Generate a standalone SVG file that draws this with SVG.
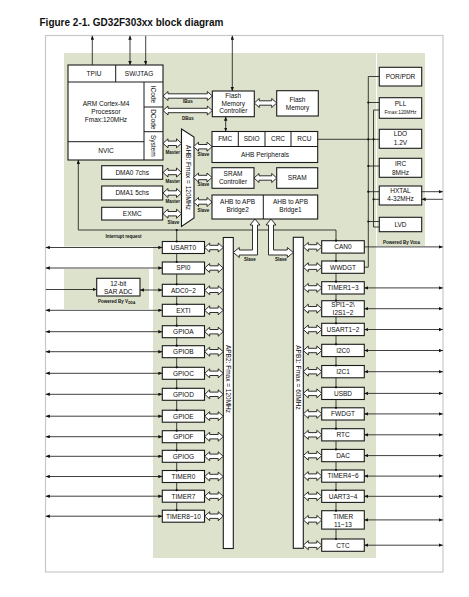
<svg xmlns="http://www.w3.org/2000/svg" width="469" height="597" viewBox="0 0 469 597">
<style>
.bx{fill:#fff;stroke:#1a1a1a;stroke-width:1.1}
.dv{stroke:#1a1a1a;stroke-width:1}
.t{font-family:"Liberation Sans",Arial,sans-serif;font-size:6.5px;fill:#0d0d0d;text-anchor:middle}
.sm{font-family:"Liberation Sans",Arial,sans-serif;font-size:4.5px;font-weight:bold;fill:#111;text-anchor:middle}
.ln{fill:none;stroke:#1e1e1e;stroke-width:0.85}
.ar{marker-end:url(#ah)}
.ar2{marker-start:url(#ah);marker-end:url(#ah)}
.ha{fill:#fff;stroke:#1a1a1a;stroke-width:0.9}
.dt{fill:#111}
</style>
<defs>
<marker id="ah" markerUnits="userSpaceOnUse" markerWidth="5" markerHeight="4" refX="4" refY="1.75" orient="auto-start-reverse"><path d="M0,0 L4,1.75 L0,3.5 Z" fill="#111"/></marker>
<path id="h18" d="M0 0 L5 -4.5 L5 -2.2 L13.5 -2.2 L13.5 -4.5 L18.5 0 L13.5 4.5 L13.5 2.2 L5 2.2 L5 4.5 Z"/>
</defs>

<g id="background">
<rect x="45.5" y="35.5" width="397.5" height="536.5" fill="#fff" stroke="#c8c8c8" stroke-width="1.2"/>
<path d="M64 53 H376 V558 H153 V246.5 H64 Z" fill="#dde2cc"/>
<rect x="377" y="53" width="48" height="193" fill="#dde2cc"/>
<rect x="64" y="269" width="85" height="40" fill="#dde2cc"/>
<text x="39.5" y="25.5" style="font-family:'Liberation Sans',Arial,sans-serif;font-size:10px;font-weight:bold;fill:#111">Figure 2-1. GD32F303xx block diagram</text>
</g>

<g id="cpu">
<rect class="bx" x="68" y="65" width="95" height="95"/>
<line class="dv" x1="68" y1="82" x2="163" y2="82"/>
<line class="dv" x1="115.7" y1="65" x2="115.7" y2="82"/>
<line class="dv" x1="144" y1="82" x2="144" y2="160"/>
<line class="dv" x1="144" y1="107" x2="163" y2="107"/>
<line class="dv" x1="144" y1="131.7" x2="163" y2="131.7"/>
<line class="dv" x1="68" y1="141.7" x2="144" y2="141.7"/>
<text class="t" x="94" y="76.3">TPIU</text>
<text class="t" x="139" y="76.3">SW/JTAG</text>
<text class="t" x="106" y="106">ARM Cortex-M4</text>
<text class="t" x="106" y="114">Processor</text>
<text class="t" x="106" y="121.7">Fmax:120MHz</text>
<text class="t" x="106" y="153.3">NVIC</text>
<text class="t" x="153.5" y="94.5" dy="0.35em" transform="rotate(90 153.5 94.5)">ICode</text>
<text class="t" x="153.5" y="119.3" dy="0.35em" transform="rotate(90 153.5 119.3)">DCode</text>
<text class="t" x="153.5" y="145.8" dy="0.35em" transform="rotate(90 153.5 145.8)">System</text>
</g>

<g id="flash-ctrl">
<rect class="bx" x="212.3" y="91" width="42" height="25.7"/>
<text class="t" x="233.3" y="98">Flash</text>
<text class="t" x="233.3" y="105.5">Memory</text>
<text class="t" x="233.3" y="113">Controller</text>
</g>
<g id="flash">
<rect class="bx" x="276.7" y="90.7" width="41.6" height="25.3"/>
<text class="t" x="297.5" y="101.5">Flash</text>
<text class="t" x="297.5" y="109.5">Memory</text>
</g>
<g id="ahb-periph">
<rect class="bx" x="212" y="131.5" width="105.7" height="31"/>
<line class="dv" x1="212" y1="146.5" x2="317.7" y2="146.5"/>
<line class="dv" x1="238.3" y1="131.5" x2="238.3" y2="146.5"/>
<line class="dv" x1="265" y1="131.5" x2="265" y2="146.5"/>
<line class="dv" x1="291" y1="131.5" x2="291" y2="146.5"/>
<text class="t" x="225.2" y="141.4">FMC</text>
<text class="t" x="251.7" y="141.4">SDIO</text>
<text class="t" x="278" y="141.4">CRC</text>
<text class="t" x="304.4" y="141.4">RCU</text>
<text class="t" x="265" y="156.8">AHB Peripherals</text>
</g>
<g id="sram-ctrl">
<rect class="bx" x="212" y="167.7" width="42" height="20.6"/>
<text class="t" x="233" y="175.8">SRAM</text>
<text class="t" x="233" y="184.1">Controller</text>
</g>
<g id="sram">
<rect class="bx" x="276.7" y="167.7" width="41" height="20.6"/>
<text class="t" x="297.2" y="180.3">SRAM</text>
</g>
<g id="bridges">
<rect class="bx" x="212" y="195" width="105.7" height="24"/>
<line class="dv" x1="263.3" y1="195" x2="263.3" y2="219"/>
<text class="t" x="237.6" y="204">AHB to APB</text>
<text class="t" x="237.6" y="212">Bridge2</text>
<text class="t" x="290.5" y="204">AHB to APB</text>
<text class="t" x="290.5" y="212">Bridge1</text>
</g>
<g id="ahb-matrix">
<polygon class="bx" points="181.5,129 194,137 194,218 181.5,226.5"/>
<text class="t" x="188" y="177.5" dy="0.35em" transform="rotate(90 188 177.5)">AHB: Fmax = 120MHz</text>
</g>
<g id="dma0">
<rect class="bx" x="101.7" y="165.7" width="61" height="13.6"/>
<text class="t" x="132.2" y="174.8">DMA0 7chs</text>
</g>
<g id="dma1">
<rect class="bx" x="101.7" y="186" width="61" height="14"/>
<text class="t" x="132.2" y="195.3">DMA1 5chs</text>
</g>
<g id="exmc">
<rect class="bx" x="101.7" y="207.3" width="61" height="12.7"/>
<text class="t" x="132.2" y="216">EXMC</text>
</g>

<g id="por-pdr"><rect class="bx" x="379.3" y="67.3" width="42.4" height="18.7"/><text class="t" x="400.5" y="79.1">POR/PDR</text></g>
<g id="pll"><rect class="bx" x="379.3" y="97.7" width="42.4" height="20.6"/><text class="t" x="400.5" y="105.7">PLL</text><text class="t" x="400.5" y="114" style="font-size:4.9px">Fmax:120MHz</text></g>
<g id="ldo"><rect class="bx" x="379.3" y="129.3" width="42.4" height="19"/><text class="t" x="400.5" y="136.2">LDO</text><text class="t" x="400.5" y="145">1.2V</text></g>
<g id="irc"><rect class="bx" x="379.3" y="158.3" width="42.4" height="19"/><text class="t" x="400.5" y="165.6">IRC</text><text class="t" x="400.5" y="174.5">8MHz</text></g>
<g id="hxtal"><rect class="bx" x="379.3" y="186" width="42.4" height="19"/><text class="t" x="400.5" y="192.6">HXTAL</text><text class="t" x="400.5" y="201.3">4-32MHz</text></g>
<g id="lvd"><rect class="bx" x="379.3" y="217.3" width="42.4" height="14.4"/><text class="t" x="400.5" y="227">LVD</text></g>
<text class="sm" x="401.5" y="243.5">Powered By V<tspan style="font-size:3.3px" dy="0.6">DDA</tspan></text>

<g id="sar-adc">
<rect class="bx" x="96.7" y="278.3" width="43.3" height="17.7"/>
<text class="t" x="118.3" y="285.7">12-bit</text>
<text class="t" x="118.3" y="293.6">SAR ADC</text>
</g>
<text class="sm" x="116.7" y="303">Powered By V<tspan style="font-size:3.3px" dy="0.6">DDA</tspan></text>

<g id="apb2-bus">
<rect class="bx" x="223.3" y="237.5" width="10" height="311"/>
<text class="t" x="228.3" y="379" dy="0.35em" transform="rotate(90 228.3 379)">APB2: Fmax = 120MHz</text>
</g>
<g id="apb1-bus">
<rect class="bx" x="293.3" y="237.3" width="10" height="311"/>
<text class="t" x="298.3" y="377.5" dy="0.35em" transform="rotate(90 298.3 377.5)">APB1: Fmax = 60MHz</text>
</g>

<g id="apb2-peripherals">
<g id="usart0"><rect class="bx" x="162.3" y="241.5" width="42.2" height="12"/><text class="t" x="183.4" y="249.8">USART0</text></g>
<g id="spi0"><rect class="bx" x="162.3" y="262" width="42.2" height="12"/><text class="t" x="183.4" y="270.3">SPI0</text></g>
<g id="adc"><rect class="bx" x="162.3" y="284.3" width="42.2" height="12"/><text class="t" x="183.4" y="292.6">ADC0~2</text></g>
<g id="exti"><rect class="bx" x="162.3" y="304.3" width="42.2" height="12"/><text class="t" x="183.4" y="312.6">EXTI</text></g>
<g id="gpioa"><rect class="bx" x="162.3" y="325.7" width="42.2" height="12"/><text class="t" x="183.4" y="334">GPIOA</text></g>
<g id="gpiob"><rect class="bx" x="162.3" y="345.7" width="42.2" height="12"/><text class="t" x="183.4" y="354">GPIOB</text></g>
<g id="gpioc"><rect class="bx" x="162.3" y="367.3" width="42.2" height="12"/><text class="t" x="183.4" y="375.6">GPIOC</text></g>
<g id="gpiod"><rect class="bx" x="162.3" y="388.3" width="42.2" height="12"/><text class="t" x="183.4" y="396.6">GPIOD</text></g>
<g id="gpioe"><rect class="bx" x="162.3" y="410.2" width="42.2" height="12"/><text class="t" x="183.4" y="418.5">GPIOE</text></g>
<g id="gpiof"><rect class="bx" x="162.3" y="430.7" width="42.2" height="12"/><text class="t" x="183.4" y="439">GPIOF</text></g>
<g id="gpiog"><rect class="bx" x="162.3" y="450.3" width="42.2" height="12"/><text class="t" x="183.4" y="458.6">GPIOG</text></g>
<g id="timer0"><rect class="bx" x="162.3" y="470.5" width="42.2" height="12"/><text class="t" x="183.4" y="478.8">TIMER0</text></g>
<g id="timer7"><rect class="bx" x="162.3" y="490.2" width="42.2" height="12"/><text class="t" x="183.4" y="498.5">TIMER7</text></g>
<g id="timer8-10"><rect class="bx" x="162.3" y="510.2" width="42.2" height="12"/><text class="t" x="183.4" y="518.5">TIMER8~10</text></g>
</g>

<g id="apb1-peripherals">
<g id="can0"><rect class="bx" x="321.7" y="240.7" width="42.6" height="12.4"/><text class="t" x="343" y="249.2">CAN0</text></g>
<g id="wwdgt"><rect class="bx" x="321.7" y="261" width="42.6" height="12.3"/><text class="t" x="343" y="269.5">WWDGT</text></g>
<g id="timer1-3"><rect class="bx" x="321.7" y="281.7" width="42.6" height="12.3"/><text class="t" x="343" y="290.2">TIMER1~3</text></g>
<g id="spi1-2"><rect class="bx" x="321.7" y="300.7" width="42.6" height="16"/><text class="t" x="343" y="307.4">SPI1~2\</text><text class="t" x="343" y="314.7">I2S1~2</text></g>
<g id="usart1-2"><rect class="bx" x="321.7" y="323.3" width="42.6" height="12.3"/><text class="t" x="343" y="331.8">USART1~2</text></g>
<g id="i2c0"><rect class="bx" x="321.7" y="344.3" width="42.6" height="12.3"/><text class="t" x="343" y="352.8">I2C0</text></g>
<g id="i2c1"><rect class="bx" x="321.7" y="365.5" width="42.6" height="12.3"/><text class="t" x="343" y="374">I2C1</text></g>
<g id="usbd"><rect class="bx" x="321.7" y="387.3" width="42.6" height="12.2"/><text class="t" x="343" y="395.7">USBD</text></g>
<g id="fwdgt"><rect class="bx" x="321.7" y="407.8" width="42.6" height="12.2"/><text class="t" x="343" y="416.2">FWDGT</text></g>
<g id="rtc"><rect class="bx" x="321.7" y="428.7" width="42.6" height="12.2"/><text class="t" x="343" y="437.1">RTC</text></g>
<g id="dac"><rect class="bx" x="321.7" y="449.4" width="42.6" height="12.3"/><text class="t" x="343" y="457.9">DAC</text></g>
<g id="timer4-6"><rect class="bx" x="321.7" y="470" width="42.6" height="12.2"/><text class="t" x="343" y="478.4">TIMER4~6</text></g>
<g id="uart3-4"><rect class="bx" x="321.7" y="490.2" width="42.6" height="12.2"/><text class="t" x="343" y="498.6">UART3~4</text></g>
<g id="timer11-13"><rect class="bx" x="321.7" y="510.7" width="42.6" height="18.4"/><text class="t" x="343" y="518.8">TIMER</text><text class="t" x="343" y="526.8">11~13</text></g>
<g id="ctc"><rect class="bx" x="321.7" y="539" width="42.6" height="12.3"/><text class="t" x="343" y="547.5">CTC</text></g>
</g>

<g id="connectors">
<line class="ln ar" x1="92.3" y1="65" x2="92.3" y2="35.8"/>
<line class="ln ar2" x1="130" y1="35.8" x2="130" y2="65"/>
<line class="ln ar" x1="145.7" y1="35.8" x2="145.7" y2="65"/>
<line class="ln ar2" x1="232.3" y1="35.8" x2="232.3" y2="91"/>
<line class="ln ar2" x1="225.7" y1="116.7" x2="225.7" y2="131.5"/>
<polyline class="ln" style="marker-start:url(#ah)" points="78.3,160 78.3,230 336,230 336,240.7"/>
<line class="ln" x1="176.7" y1="230" x2="176.7" y2="241.5"/>
<path class="ln" d="M176.7 253.5V262 M176.7 274V284.3 M176.7 296.3V304.3 M176.7 316.3V325.7 M176.7 337.7V345.7 M176.7 357.7V367.3 M176.7 379.3V388.3 M176.7 400.3V410.2 M176.7 422.2V430.7 M176.7 442.7V450.3 M176.7 462.3V470.5 M176.7 482.5V490.2 M176.7 502.2V510.2"/>
<path class="ln" d="M336 253.1V261 M336 273.3V281.7 M336 294V300.7 M336 316.7V323.3 M336 335.6V344.3 M336 356.6V365.5 M336 377.8V387.3 M336 399.5V407.8 M336 420V428.7 M336 440.9V449.4 M336 461.7V470 M336 482.2V490.2 M336 502.4V510.7 M336 529.1V539"/>
<text class="sm" x="123.5" y="237.5">Interrupt request</text>
<line class="ln ar2" x1="45.8" y1="247.5" x2="162.3" y2="247.5"/>
<line class="ln ar2" x1="45.8" y1="268" x2="162.3" y2="268"/>
<line class="ln ar" x1="45.8" y1="289.5" x2="96.7" y2="289.5"/>
<line class="ln ar2" x1="140" y1="290" x2="162.3" y2="290"/>
<line class="ln ar2" x1="45.8" y1="310.3" x2="162.3" y2="310.3"/>
<line class="ln ar2" x1="45.8" y1="331.7" x2="162.3" y2="331.7"/>
<line class="ln ar2" x1="45.8" y1="351.7" x2="162.3" y2="351.7"/>
<line class="ln ar2" x1="45.8" y1="373.3" x2="162.3" y2="373.3"/>
<line class="ln ar2" x1="45.8" y1="394.3" x2="162.3" y2="394.3"/>
<line class="ln ar2" x1="45.8" y1="416.2" x2="162.3" y2="416.2"/>
<line class="ln ar2" x1="45.8" y1="436.7" x2="162.3" y2="436.7"/>
<line class="ln ar2" x1="45.8" y1="456.3" x2="162.3" y2="456.3"/>
<line class="ln ar2" x1="45.8" y1="476.5" x2="162.3" y2="476.5"/>
<line class="ln ar2" x1="45.8" y1="496.2" x2="162.3" y2="496.2"/>
<line class="ln ar2" x1="45.8" y1="516.2" x2="162.3" y2="516.2"/>
<line class="ln ar" x1="364.3" y1="246.9" x2="442.8" y2="246.9"/>
<polyline class="ln" points="364.3,267.2 368.3,267.2 368.3,76.5 379.3,76.5"/>
<line class="ln ar2" x1="364.3" y1="287.9" x2="442.8" y2="287.9"/>
<line class="ln ar2" x1="364.3" y1="308.7" x2="442.8" y2="308.7"/>
<line class="ln ar2" x1="364.3" y1="329.5" x2="442.8" y2="329.5"/>
<line class="ln ar2" x1="364.3" y1="350.5" x2="442.8" y2="350.5"/>
<line class="ln ar2" x1="364.3" y1="371.7" x2="442.8" y2="371.7"/>
<line class="ln ar2" x1="364.3" y1="393.4" x2="442.8" y2="393.4"/>
<line class="ln ar2" x1="364.3" y1="413.9" x2="442.8" y2="413.9"/>
<line class="ln ar2" x1="364.3" y1="434.8" x2="442.8" y2="434.8"/>
<line class="ln ar2" x1="364.3" y1="455.6" x2="442.8" y2="455.6"/>
<line class="ln ar2" x1="364.3" y1="476.1" x2="442.8" y2="476.1"/>
<line class="ln ar2" x1="364.3" y1="496.3" x2="442.8" y2="496.3"/>
<line class="ln ar2" x1="364.3" y1="519.9" x2="442.8" y2="519.9"/>
<line class="ln ar2" x1="364.3" y1="545.2" x2="442.8" y2="545.2"/>
<line class="ln" x1="317.7" y1="139.3" x2="379.3" y2="139.3"/>
<polyline class="ln" points="379.3,110 373.5,110 373.5,227 379.3,227"/>
<line class="ln" x1="368.3" y1="102.5" x2="379.3" y2="102.5"/>
<line class="ln" x1="368.3" y1="166" x2="379.3" y2="166"/>
<line class="ln" x1="368.3" y1="191.7" x2="379.3" y2="191.7"/>
<line class="ln" x1="373.5" y1="199.3" x2="379.3" y2="199.3"/>
<line class="ln" x1="368.3" y1="221.5" x2="379.3" y2="221.5"/>
<line class="ln ar" x1="421.7" y1="191.7" x2="442.8" y2="191.7"/>
<line class="ln ar" x1="442.8" y1="199.3" x2="421.7" y2="199.3"/>
<path class="ha" d="M163 96 L168 91.5 L168 93.8 L207.3 93.8 L207.3 91.5 L212.3 96 L207.3 100.5 L207.3 98.2 L168 98.2 L168 100.5 Z"/>
<path class="ha" d="M163 110.5 L168 106 L168 108.3 L207.3 108.3 L207.3 106 L212.3 110.5 L207.3 115 L207.3 112.7 L168 112.7 L168 115 Z"/>
<text class="sm" x="188" y="103">IBus</text>
<text class="sm" x="188" y="119.5">DBus</text>
<path class="ha" d="M254.3 103 L259.3 98.5 L259.3 100.8 L271.7 100.8 L271.7 98.5 L276.7 103 L271.7 107.5 L271.7 105.2 L259.3 105.2 L259.3 107.5 Z"/>
<path class="ha" d="M254 178 L259 173.5 L259 175.8 L271.7 175.8 L271.7 173.5 L276.7 178 L271.7 182.5 L271.7 180.2 L259 180.2 L259 182.5 Z"/>
<use href="#h18" class="ha" x="163" y="143.3"/>
<use href="#h18" class="ha" x="163" y="172.5"/>
<use href="#h18" class="ha" x="163" y="193"/>
<use href="#h18" class="ha" x="163" y="213.7"/>
<use href="#h18" class="ha" x="193.5" y="146.7"/>
<use href="#h18" class="ha" x="193.5" y="177.5"/>
<use href="#h18" class="ha" x="193.5" y="202"/>
<text class="sm" x="172.7" y="154">Master</text>
<text class="sm" x="172.7" y="182.5">Master</text>
<text class="sm" x="172.7" y="202.5">Master</text>
<text class="sm" x="173.3" y="223.5">Slave</text>
<text class="sm" x="203.5" y="155.5">Slave</text>
<text class="sm" x="203.5" y="186">Slave</text>
<text class="sm" x="203.5" y="212">Slave</text>
<path class="ha" d="M255 219 L260 225 L257.5 225 L257.5 255 L239.3 255 L239.3 257.5 L233.3 252.5 L239.3 247.5 L239.3 250 L252.5 250 L252.5 225 L250 225 Z"/>
<path class="ha" d="M271 219 L276 225 L273.5 225 L273.5 250 L287.3 250 L287.3 247.5 L293.3 252.5 L287.3 257.5 L287.3 255 L268.5 255 L268.5 225 L266 225 Z"/>
<text class="sm" x="250" y="261">Slave</text>
<text class="sm" x="281" y="261">Slave</text>
<use href="#h18" class="ha" x="204.7" y="247.5"/>
<use href="#h18" class="ha" x="204.7" y="268"/>
<use href="#h18" class="ha" x="204.7" y="290.3"/>
<use href="#h18" class="ha" x="204.7" y="310.3"/>
<use href="#h18" class="ha" x="204.7" y="331.7"/>
<use href="#h18" class="ha" x="204.7" y="351.7"/>
<use href="#h18" class="ha" x="204.7" y="373.3"/>
<use href="#h18" class="ha" x="204.7" y="394.3"/>
<use href="#h18" class="ha" x="204.7" y="416.2"/>
<use href="#h18" class="ha" x="204.7" y="436.7"/>
<use href="#h18" class="ha" x="204.7" y="456.3"/>
<use href="#h18" class="ha" x="204.7" y="476.5"/>
<use href="#h18" class="ha" x="204.7" y="496.2"/>
<use href="#h18" class="ha" x="204.7" y="516.2"/>
<use href="#h18" class="ha" x="303.3" y="246.9"/>
<use href="#h18" class="ha" x="303.3" y="267.2"/>
<use href="#h18" class="ha" x="303.3" y="287.9"/>
<use href="#h18" class="ha" x="303.3" y="308.7"/>
<use href="#h18" class="ha" x="303.3" y="329.5"/>
<use href="#h18" class="ha" x="303.3" y="350.5"/>
<use href="#h18" class="ha" x="303.3" y="371.7"/>
<use href="#h18" class="ha" x="303.3" y="393.4"/>
<use href="#h18" class="ha" x="303.3" y="413.9"/>
<use href="#h18" class="ha" x="303.3" y="434.8"/>
<use href="#h18" class="ha" x="303.3" y="455.6"/>
<use href="#h18" class="ha" x="303.3" y="476.1"/>
<use href="#h18" class="ha" x="303.3" y="496.3"/>
<use href="#h18" class="ha" x="303.3" y="519.9"/>
<use href="#h18" class="ha" x="303.3" y="545.2"/>
<g class="dt">
<circle cx="176.7" cy="230" r="1.1"/>
<circle cx="176.7" cy="241.5" r="1.1"/><circle cx="176.7" cy="262" r="1.1"/><circle cx="176.7" cy="284.3" r="1.1"/><circle cx="176.7" cy="304.3" r="1.1"/><circle cx="176.7" cy="325.7" r="1.1"/><circle cx="176.7" cy="345.7" r="1.1"/><circle cx="176.7" cy="367.3" r="1.1"/><circle cx="176.7" cy="388.3" r="1.1"/><circle cx="176.7" cy="410.2" r="1.1"/><circle cx="176.7" cy="430.7" r="1.1"/><circle cx="176.7" cy="450.3" r="1.1"/><circle cx="176.7" cy="470.5" r="1.1"/><circle cx="176.7" cy="490.2" r="1.1"/><circle cx="176.7" cy="510.2" r="1.1"/>
<circle cx="336" cy="240.7" r="1.1"/><circle cx="336" cy="261" r="1.1"/><circle cx="336" cy="281.7" r="1.1"/><circle cx="336" cy="300.7" r="1.1"/><circle cx="336" cy="323.3" r="1.1"/><circle cx="336" cy="344.3" r="1.1"/><circle cx="336" cy="365.5" r="1.1"/><circle cx="336" cy="387.3" r="1.1"/><circle cx="336" cy="407.8" r="1.1"/><circle cx="336" cy="428.7" r="1.1"/><circle cx="336" cy="449.4" r="1.1"/><circle cx="336" cy="470" r="1.1"/><circle cx="336" cy="490.2" r="1.1"/><circle cx="336" cy="510.7" r="1.1"/><circle cx="336" cy="539" r="1.1"/>
<circle cx="368.3" cy="102.5" r="1.1"/><circle cx="368.3" cy="139.3" r="1.1"/><circle cx="373.5" cy="139.3" r="1.1"/><circle cx="368.3" cy="166" r="1.1"/><circle cx="368.3" cy="191.7" r="1.1"/><circle cx="373.5" cy="199.3" r="1.1"/><circle cx="368.3" cy="221.5" r="1.1"/>
</g>
</g>
</svg>
